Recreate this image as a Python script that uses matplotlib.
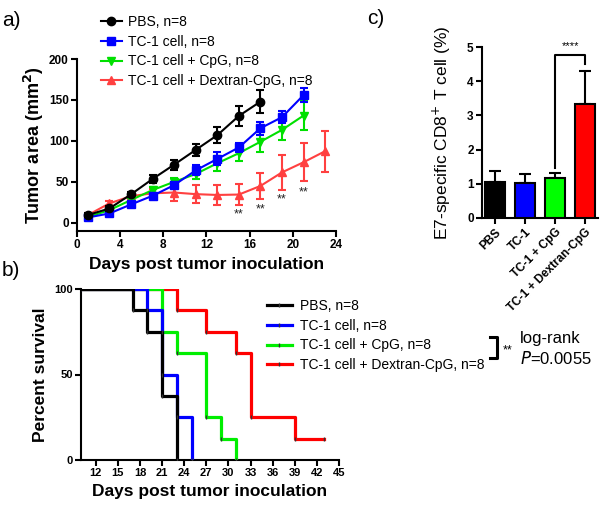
import matplotlib
matplotlib.use("Agg")
import matplotlib.pyplot as plt
import numpy as np
from matplotlib.lines import Line2D

plt.rcParams['font.family'] = ['Liberation Sans', 'DejaVu Sans']

# ---------------- data ----------------
groups = ["PBS, n=8", "TC-1 cell, n=8", "TC-1 cell + CpG, n=8", "TC-1 cell + Dextran-CpG, n=8"]
colors = ["#000000", "#0000ff", "#00e000", "#ff4040"]
surv_colors = ["#000000", "#0000ff", "#00ee00", "#ff0000"]
markers = ["o", "s", "v", "^"]

# panel a: tumor growth
days_pbs = [1, 3, 5, 7, 9, 11, 13, 15, 17]
area_pbs = [9.4, 17.5, 34.7, 53.5, 71, 89, 107, 130.5, 148]
err_pbs = [2, 3, 3, 5, 6, 7, 10, 12, 14]

days_tc1 = [1, 3, 5, 7, 9, 11, 13, 15, 17, 19, 21]
area_tc1 = [6.5, 11.4, 22.4, 33, 46, 64, 78, 92, 115.5, 129, 156]
err_tc1 = [2, 2, 3, 3, 4, 6, 8, 6, 8, 7, 9]

days_cpg = [1, 3, 5, 7, 9, 11, 13, 15, 17, 19, 21]
area_cpg = [7, 15.5, 27.8, 40, 50, 59.6, 72.7, 85, 99, 113.5, 131]
err_cpg = [2, 2, 3, 4, 5, 6, 9, 10, 13, 12, 18]

days_dex = [1, 3, 5, 7, 9, 11, 13, 15, 17, 19, 21, 23]
area_dex = [9.4, 23.7, 32.5, 36, 37, 35, 34, 34.5, 45, 61.6, 74, 87.5]
err_dex = [2, 3, 3, 5, 10, 11, 12, 13, 16, 21, 23, 25]

sig_days = [15, 17, 19, 21]
sig_y = [10, 16, 28, 37]

# panel b: survival (Kaplan-Meier steps)
t_pbs = [0, 17, 19, 21, 23]
s_pbs = [100, 87.5, 75, 37.5, 0]
t_tc1 = [0, 19, 21, 23, 25]
s_tc1 = [100, 87.5, 50, 25, 0]
t_cpg = [0, 21, 23, 27, 29, 31]
s_cpg = [100, 75, 62.5, 25, 12.5, 0]
t_dex = [0, 23, 27, 31, 33, 39, 43]
s_dex = [100, 87.5, 75, 62.5, 25, 12.5, 12.5]

# panel c: bar chart
bar_labels = ["PBS", "TC-1", "TC-1 + CpG", "TC-1 + Dextran-CpG"]
bar_vals = [1.04, 1.01, 1.16, 3.33]
bar_errs = [0.32, 0.27, 0.17, 0.98]
bar_colors = ["#000000", "#0000ff", "#00ff00", "#ff0000"]

# ---------------- figure ----------------
W, H = 600, 508
fig = plt.figure(figsize=(W / 100, H / 100), dpi=100)

def frac(l, r, b, t):
    return [l / W, 1 - b / H, (r - l) / W, (b - t) / H]

def style(ax, lw=1.5, size=8.5):
    for s in ["top", "right"]:
        ax.spines[s].set_visible(False)
    for s in ["left", "bottom"]:
        ax.spines[s].set_linewidth(lw)
    ax.tick_params(direction="out", width=lw, length=4, labelsize=size, pad=2)
    for lab in ax.get_xticklabels() + ax.get_yticklabels():
        lab.set_fontweight("bold")

LEG_FONT = {"family": "Liberation Sans", "size": 10}

# ---- panel a ----
axa = fig.add_axes(frac(77, 336, 231, 59))
series = [(days_pbs, area_pbs, err_pbs), (days_tc1, area_tc1, err_tc1),
          (days_cpg, area_cpg, err_cpg), (days_dex, area_dex, err_dex)]
for i in [3, 2, 1, 0]:
    d, a, e = series[i]
    axa.errorbar(d, a, yerr=e, color=colors[i], marker=markers[i], markersize=6,
                 lw=1.5, elinewidth=1.5, capsize=3, capthick=1.5, label=groups[i], zorder=3 + (3 - i))
for x, y in zip(sig_days, sig_y):
    axa.text(x, y, "**", ha="center", va="center", fontsize=9, color="#222222")
axa.set_xlim(0, 24)
axa.set_ylim(-10, 200)
axa.set_xticks(range(0, 25, 4))
axa.set_yticks(range(0, 201, 50))
axa.set_xlabel("Days post tumor inoculation", fontsize=12.5, fontweight="bold", labelpad=4)
axa.set_ylabel("Tumor area (mm$^\\mathbf{2}$)", fontsize=13, fontweight="bold", labelpad=2)
style(axa)
handles = [Line2D([], [], color=colors[i], marker=markers[i], markersize=6, lw=1.5) for i in range(4)]
fig.legend(handles, groups, loc="upper left", bbox_to_anchor=(91 / W, 1 - 5 / H), frameon=False,
           handlelength=1.5, handletextpad=0.5, labelspacing=0.42, borderpad=0.2, prop=LEG_FONT)
fig.text(2 / W, 1 - 20 / H, "a)", fontsize=15, va="center", ha="left")

# ---- panel b ----
axb = fig.add_axes(frac(81, 339, 460, 289))
surv = [(t_pbs, s_pbs), (t_tc1, s_tc1), (t_cpg, s_cpg), (t_dex, s_dex)]
for i in [3, 2, 1, 0]:
    t, s = surv[i]
    axb.step(t, s, where="post", color=surv_colors[i], lw=2.3, zorder=3 + (3 - i))
    axb.plot(t[1:], s[1:], ls="none", marker="|", markersize=3.5, mew=1, color="#333333", zorder=10)
axb.set_xlim(10, 45)
axb.set_ylim(0, 100)
axb.set_xticks(range(12, 46, 3))
axb.set_yticks([0, 50, 100])
axb.set_xlabel("Days post tumor inoculation", fontsize=12.5, fontweight="bold", labelpad=4)
axb.set_ylabel("Percent survival", fontsize=12.5, fontweight="bold", labelpad=4)
style(axb, size=8)
hb = [Line2D([], [], color=surv_colors[i], lw=2.3, marker="|", markersize=3.5, mec="#333333", mew=1) for i in range(4)]
fig.legend(hb, groups, loc="upper left", bbox_to_anchor=(257 / W, 1 - 289 / H), frameon=False,
           handlelength=1.8, handletextpad=0.6, labelspacing=0.42, borderpad=0.2, prop=LEG_FONT)
# bracket and stats
fig.add_artist(Line2D([490 / W, 497 / W, 497 / W, 490 / W],
                      [1 - 337 / H, 1 - 337 / H, 1 - 358 / H, 1 - 358 / H], color="k", lw=2.2))
fig.text(503 / W, 1 - 350 / H, "**", fontsize=9, va="center", ha="left")
fig.text(520 / W, 1 - 339 / H, "log-rank", fontsize=12, va="center", ha="left")
fig.text(520 / W, 1 - 359 / H, "$\\it{P}$=0.0055", fontsize=12, va="center", ha="left")
fig.text(2 / W, 1 - 270 / H, "b)", fontsize=15, va="center", ha="left")

# ---- panel c ----
axc = fig.add_axes(frac(482, 598, 218, 47))
xpos = np.arange(len(bar_vals))
axc.bar(xpos, bar_vals, width=0.66, color=bar_colors, edgecolor="k", lw=1.5, zorder=3)
axc.errorbar(xpos, bar_vals, yerr=[np.zeros(4), bar_errs], fmt="none", ecolor="k",
             elinewidth=1.5, capsize=4, capthick=1.5, zorder=2)
axc.set_xlim(-0.43, 3.43)
axc.set_ylim(0, 5)
axc.set_yticks(range(0, 6))
axc.set_xticks(xpos)
axc.set_xticklabels(bar_labels, rotation=45, ha="right", rotation_mode="anchor")
axc.set_ylabel("E7-specific CD8$^{+}$ T cell (%)", fontsize=12.5, labelpad=10)
style(axc)
y_br = 4.78
axc.plot([2, 2, 3, 3], [bar_vals[2] + bar_errs[2] + 0.13, y_br, y_br, 4.5], color="k", lw=1.5, clip_on=False)
axc.text(2.5, y_br + 0.1, "****", ha="center", va="bottom", fontsize=8)
fig.text(367 / W, 1 - 19 / H, "c)", fontsize=15, va="center", ha="left")

fig.savefig("out.png", dpi=100)
